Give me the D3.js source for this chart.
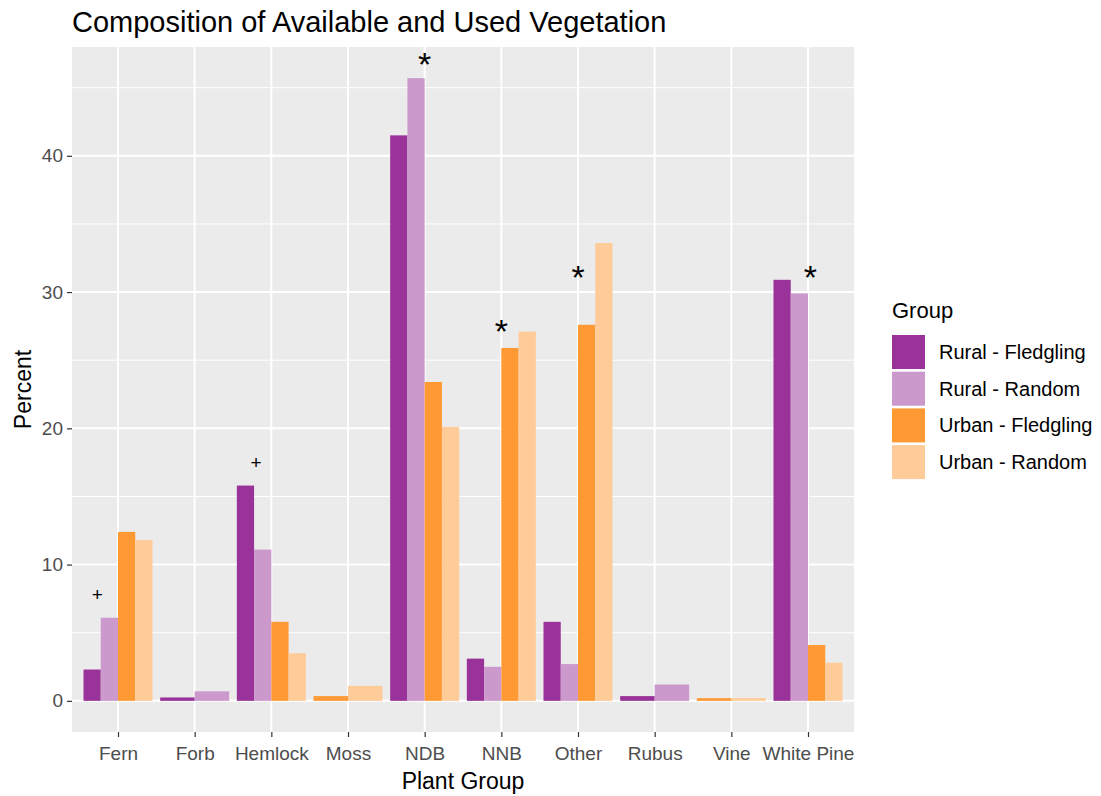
<!DOCTYPE html>
<html>
<head>
<meta charset="utf-8">
<script src="https://cdn.jsdelivr.net/npm/d3@7"></script>
<style>
  html, body { margin: 0; padding: 0; background: #ffffff; }
  svg { display: block; font-family: "Liberation Sans", Arial, sans-serif; }
</style>
</head>
<body>
<svg id="chart" width="1101" height="796"></svg>
<script>
// Plant groups along the x axis
const categories = ["Fern", "Forb", "Hemlock", "Moss", "NDB", "NNB", "Other", "Rubus", "Vine", "White Pine"];

// Percent of vegetation per group (null = group not present for that plant)
const groups = ["Rural - Fledgling", "Rural - Random", "Urban - Fledgling", "Urban - Random"];
const ruralFledgling = [2.3, 0.25, 15.8, null, 41.5, 3.1, 5.8, 0.35, null, 30.9];
const ruralRandom    = [6.1, 0.7, 11.1, null, 45.7, 2.5, 2.7, 1.2, null, 29.9];
const urbanFledgling = [12.4, null, 5.8, 0.35, 23.4, 25.9, 27.6, null, 0.2, 4.1];
const urbanRandom    = [11.8, null, 3.5, 1.1, 20.1, 27.1, 33.6, null, 0.2, 2.8];
const seriesValues = [ruralFledgling, ruralRandom, urbanFledgling, urbanRandom];
const groupColors = ["#993399", "#CC99CC", "#FF9933", "#FFCC99"];

// Significance markers: category, horizontal offset (in category units), height, symbol
const markCategories = ["Fern", "Hemlock", "NDB", "NNB", "Other", "White Pine"];
const markOffsets    = [-0.27, -0.2, 0, 0, 0, 0.03];
const markValues     = [7.8, 17.5, 47.1, 27.5, 31.5, 31.5];
const markSymbols    = ["+", "+", "*", "*", "*", "*"];

const yTicks = [0, 10, 20, 30, 40];
const yMinor = [5, 15, 25, 35, 45];

const svg = d3.select("#chart");
const margin = { left: 72, top: 47 };
const pw = 782, ph = 685;

const g = svg.append("g").attr("transform", `translate(${margin.left},${margin.top})`);

// ggplot-style expansion: 5% on the continuous axis, 0.6 units on the discrete one
const maxVal = d3.max(seriesValues.flat().filter(v => v != null));
const pad = maxVal * 0.05;
const y = d3.scaleLinear().domain([-pad, maxVal + pad]).range([ph, 0]);
const x = d3.scalePoint().domain(categories).range([0, pw]).padding(0.6);
const step = x.step();

// Panel
g.append("rect").attr("width", pw).attr("height", ph).attr("fill", "#EBEBEB");

// Grid lines
g.selectAll(".minor").data(yMinor).join("line")
  .attr("x1", 0).attr("x2", pw)
  .attr("y1", d => y(d)).attr("y2", d => y(d))
  .attr("stroke", "#ffffff").attr("stroke-width", 1);
g.selectAll(".majorY").data(yTicks).join("line")
  .attr("x1", 0).attr("x2", pw)
  .attr("y1", d => y(d)).attr("y2", d => y(d))
  .attr("stroke", "#ffffff").attr("stroke-width", 2);
g.selectAll(".majorX").data(categories).join("line")
  .attr("x1", d => x(d)).attr("x2", d => x(d))
  .attr("y1", 0).attr("y2", ph)
  .attr("stroke", "#ffffff").attr("stroke-width", 2);

// Bars, dodged among the groups present in each category
const barData = [];
categories.forEach((c, ci) => {
  const present = groups.map((gname, gi) => ({ gi, v: seriesValues[gi][ci] })).filter(d => d.v != null);
  const w = step * 0.9 / present.length;
  const x0 = x(c) - step * 0.45;
  present.forEach((d, k) => {
    barData.push({ cat: c, gi: d.gi, v: d.v, x: x0 + k * w, w });
  });
});

g.selectAll(".bar").data(barData).join("rect")
  .attr("x", d => d.x)
  .attr("width", d => d.w)
  .attr("y", d => y(Math.max(0, d.v)))
  .attr("height", d => Math.abs(y(d.v) - y(0)))
  .attr("fill", d => groupColors[d.gi]);

// Significance markers
markCategories.forEach((c, i) => {
  const sym = markSymbols[i];
  const fs = sym === "*" ? 34 : 19;
  const lift = sym === "*" ? 0.5 : 0.36;
  g.append("text")
    .attr("x", x(c) + markOffsets[i] * step)
    .attr("y", y(markValues[i]) + lift * fs)
    .attr("text-anchor", "middle")
    .attr("font-size", fs)
    .attr("fill", "#000000")
    .text(sym);
});

// Axes
const yAxis = g.append("g").call(d3.axisLeft(y).tickValues(yTicks).tickSize(5).tickPadding(4));
const xAxis = g.append("g").attr("transform", `translate(0,${ph})`)
  .call(d3.axisBottom(x).tickSize(5).tickPadding(5));
[yAxis, xAxis].forEach(a => {
  a.select(".domain").remove();
  a.selectAll(".tick line").attr("stroke", "#333333").attr("stroke-width", 1.2);
  a.selectAll(".tick text").attr("fill", "#4D4D4D").attr("font-size", 19)
    .attr("font-family", "Liberation Sans, Arial, sans-serif");
});
xAxis.selectAll(".tick text").attr("dy", "0.95em");

// Titles
svg.append("text").attr("x", 72).attr("y", 32)
  .attr("font-size", 29).attr("fill", "#000").text("Composition of Available and Used Vegetation");
svg.append("text").attr("x", margin.left + pw / 2).attr("y", 789)
  .attr("text-anchor", "middle").attr("font-size", 23).attr("fill", "#000").text("Plant Group");
svg.append("text")
  .attr("transform", `translate(31,${margin.top + ph / 2}) rotate(-90)`)
  .attr("text-anchor", "middle").attr("font-size", 23).attr("fill", "#000").text("Percent");

// Legend
const lg = svg.append("g").attr("transform", "translate(892,0)");
lg.append("text").attr("x", 0).attr("y", 318).attr("font-size", 22).attr("fill", "#000").text("Group");
groups.forEach((name, i) => {
  const top = 335 + i * 36.7;
  lg.append("rect").attr("x", 0).attr("y", top).attr("width", 33).attr("height", 34)
    .attr("fill", groupColors[i]);
  lg.append("text").attr("x", 47).attr("y", top + 17).attr("dy", "0.35em")
    .attr("font-size", 20).attr("fill", "#000").text(name);
});
</script>
</body>
</html>
